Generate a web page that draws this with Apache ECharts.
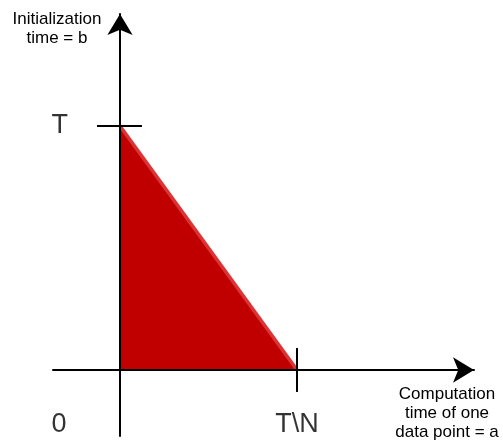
<!DOCTYPE html>
<html>
<head>
<meta charset="utf-8">
<script src="https://cdn.jsdelivr.net/npm/echarts@6/dist/echarts.min.js"></script>
<style>
  html, body { margin: 0; padding: 0; background: #fff; }
  #chart { width: 503px; height: 448px; }
</style>
</head>
<body>
<div id="chart"></div>
<script>
// curve: initialization time falls from T (at 0) to 0 (at T\N)
var curveX = [0, 1];
var curveY = [1, 0];
// tick labels
var zeroLabel = '0';
var yTickLabel = 'T';
var xTickLabel = 'T\\N';
var yTickValue = 1;
var xTickValue = 1;
var yAxisTitle = 'Initialization\ntime = b';
var xAxisTitle = 'Computation\ntime of one\ndata point = a';

var ec = echarts.init(document.getElementById('chart'));

var font = 'Liberation Sans, Arial, Helvetica, sans-serif';
var axisLine = {
    show: true,
    onZero: true,
    symbol: ['none', 'arrow'],
    symbolSize: [19, 21],
    lineStyle: { color: '#000', width: 2 }
};

var option = {
    animation: false,
    grid: { left: 53, top: 14, width: 421, height: 422, containLabel: false },
    xAxis: {
        type: 'value',
        min: -0.3785,
        max: 2.0,
        z: 3,
        axisLine: axisLine,
        axisTick: { show: false },
        axisLabel: { show: false },
        splitLine: { show: false }
    },
    yAxis: {
        type: 'value',
        min: -0.2705,
        max: 1.459,
        z: 3,
        axisLine: axisLine,
        axisTick: { show: false },
        axisLabel: { show: false },
        splitLine: { show: false }
    },
    series: [
        {
            type: 'line',
            data: curveX.map(function (x, i) { return [x, curveY[i]]; }),
            symbol: 'none',
            z: 2,
            lineStyle: { color: '#dc3434', width: 3.5 },
            areaStyle: { color: '#c00000', opacity: 1 }
        },
        {
            // tick at T
            type: 'line',
            data: [[-0.13, yTickValue], [0.124, yTickValue]],
            symbol: 'none',
            z: 4,
            lineStyle: { color: '#000', width: 2 }
        },
        {
            // tick at T\N
            type: 'line',
            data: [[xTickValue, 0.09], [xTickValue, -0.09]],
            symbol: 'none',
            z: 4,
            lineStyle: { color: '#000', width: 2 }
        },
        {
            type: 'scatter',
            symbolSize: 0,
            silent: true,
            label: {
                show: true,
                position: 'inside',
                formatter: function (p) { return p.data.name; },
                color: '#000',
                fontSize: 27,
                fontFamily: font
            },
            data: [
                { name: zeroLabel, value: [-0.345, -0.225] },
                { name: yTickLabel, value: [-0.34, yTickValue] },
                { name: xTickLabel, value: [xTickValue, -0.225] }
            ]
        }
    ],
    graphic: [
        {
            type: 'text',
            x: 57, y: 29,
            style: {
                text: yAxisTitle, fill: '#000', fontSize: 17, lineHeight: 19,
                fontFamily: font, align: 'center', verticalAlign: 'middle'
            }
        },
        {
            type: 'text',
            x: 447, y: 413,
            style: {
                text: xAxisTitle, fill: '#000', fontSize: 17, lineHeight: 19,
                fontFamily: font, align: 'center', verticalAlign: 'middle'
            }
        }
    ]
};
ec.setOption(option);
</script>
</body>
</html>
